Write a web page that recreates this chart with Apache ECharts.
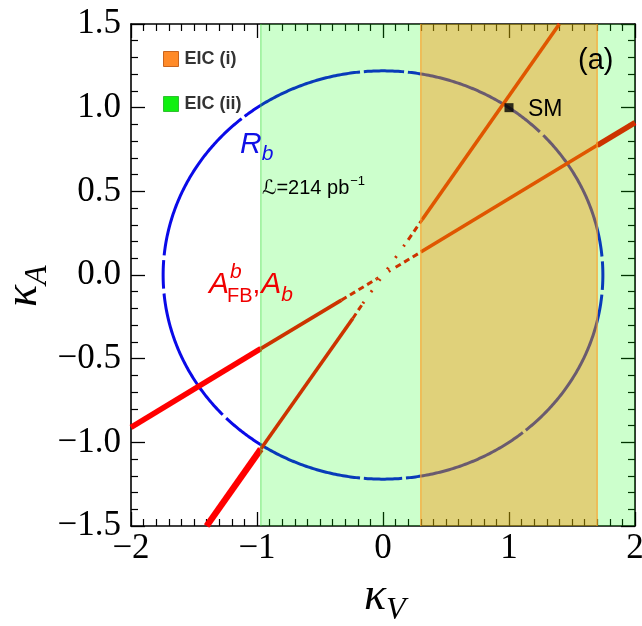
<!DOCTYPE html>
<html><head><meta charset="utf-8">
<script src="https://cdn.jsdelivr.net/npm/echarts@6/dist/echarts.min.js"></script>
<style>html,body{margin:0;padding:0;background:#fff}#c{width:642px;height:626px}</style>
</head><body><div id="c"></div>
<script>
// ---- data ----
const xRange = [-2, 2];
const yRange = [-1.5, 1.5];
const xInterval = 1;
const yInterval = 0.5;
const xTickLabels = ['−2', '−1', '0', '1', '2'];
const yTickLabels = ['−1.5', '−1.0', '−0.5', '0.0', '0.5', '1.0', '1.5'];
const bandNames = ['EIC (i)', 'EIC (ii)'];
const bandEIC1 = [0.30, 1.70];
const bandEIC2 = [-0.97, 2.0];
const rbCenter = [0, 0];
const rbSemiAxes = [1.745, 1.22];
const rbGapAngles = [4.7, 44, 84, 95.5, 129.5, 175.3, 184.7, 224, 264.5, 275.5, 310, 355.3];
const steepLine = [[-1.40, -1.5], [-0.97, -1.04], [-0.24, -0.26], [-0.16, -0.17], [0.20, 0.21], [0.31, 0.33], [1.40, 1.5]];
const steepKinds = ['thick', 'mid', 'dash', 'dot', 'dash', 'mid'];
const shallowLine = [[-2, -0.91], [-0.97, -0.44], [-0.33, -0.15], [-0.05, -0.023], [0.10, 0.046], [0.30, 0.137], [1.70, 0.775], [2, 0.91]];
const shallowKinds = ['thick', 'mid', 'dash', 'dot', 'dash', 'mid', 'thick'];
const smPoint = [1, 1];

// ---- styles ----
const F_SANS = '"Liberation Sans", Arial, "DejaVu Sans", sans-serif';
const F_SERIF = '"Liberation Serif", "Times New Roman", serif';
const lineKindStyle = {
  thick: { width: 6 },
  mid: { width: 3.6 },
  dash: { width: 3, type: [6, 4] },
  dot: { width: 3, type: [2, 12] }
};

const chart = echarts.init(document.getElementById('c'), null, { renderer: 'canvas' });

function segSeries(pts, kinds, w) {
  return kinds.map((k, i) => ({
    type: 'line', data: [pts[i], pts[i + 1]], symbol: 'none', z: 3, silent: true,
    animation: false, clip: true,
    lineStyle: Object.assign({ color: '#ff0000', cap: 'butt' }, lineKindStyle[k],
      (k === 'thick' && w) ? { width: w } : {})
  }));
}

function bandRender(fill, stroke, edges) {
  return function (params, api) {
    const a = api.coord([api.value(0), yRange[1]]);
    const b = api.coord([api.value(1), yRange[0]]);
    const ch = [{ type: 'rect', shape: { x: a[0], y: a[1], width: b[0] - a[0], height: b[1] - a[1] }, style: { fill: fill } }];
    edges.forEach(e => {
      const x = e === 0 ? a[0] : b[0];
      ch.push({ type: 'line', shape: { x1: x, y1: a[1], x2: x, y2: b[1] }, style: { stroke: stroke, lineWidth: 1.5 } });
    });
    return { type: 'group', children: ch };
  };
}

function ellipseRender(params, api) {
  const cx = api.value(0), cy = api.value(1);
  const ra = rbSemiAxes[0], rb = rbSemiAxes[1];
  const g = rbGapAngles.slice().sort((p, q) => p - q);
  const half = 0.5;
  const children = [];
  for (let i = 0; i < g.length; i++) {
    const t0 = g[i] + half;
    const t1 = (i + 1 < g.length ? g[i + 1] : g[0] + 360) - half;
    const pts = [];
    for (let t = t0; t <= t1 + 1e-9; t += 0.5) {
      const r = t * Math.PI / 180;
      pts.push(api.coord([cx + ra * Math.cos(r), cy + rb * Math.sin(r)]));
    }
    children.push({ type: 'polyline', shape: { points: pts }, style: { stroke: '#0a0ae8', lineWidth: 3, fill: null } });
  }
  return { type: 'group', children: children };
}

// ---- text helpers ----
const meas = document.createElement('canvas').getContext('2d');
function fontStr(p) {
  return (p.italic ? 'italic ' : '') + (p.bold ? 'bold ' : '') + p.size + 'px ' + (p.serif ? F_SERIF : F_SANS);
}
function textRun(pieces, startX, fill, z) {
  const els = [];
  let maxEnd = startX, stackX = startX, first = true;
  pieces.forEach(p => {
    const f = fontStr(p);
    meas.font = f;
    const w = meas.measureText(p.t).width;
    let px;
    if (first) { px = startX; first = false; stackX = px; }
    else if (p.stack) { px = stackX + (p.dx || 0); }
    else { px = maxEnd + (p.dx || 0); stackX = px; }
    els.push({ type: 'text', z: z || 100, style: { text: p.t, x: px, y: p.base - 0.345 * p.size, font: f, fill: p.fill || fill, align: 'left', verticalAlign: 'middle' } });
    maxEnd = Math.max(maxEnd, px + w);
  });
  return els;
}

const labels = [].concat(
  textRun([{ t: 'R', size: 30, italic: true, base: 155 }, { t: 'b', size: 21, italic: true, base: 161, dx: 0 }], 240, '#1010e6'),
  textRun([
    { t: 'A', size: 30, italic: true, base: 295 },
    { t: 'b', size: 21, italic: true, base: 279, dx: 1 },
    { t: 'FB', size: 20, base: 303, stack: true, dx: -3 },
    { t: ',', size: 28, base: 295, dx: 0 },
    { t: 'A', size: 30, italic: true, base: 295, dx: 1 },
    { t: 'b', size: 21, italic: true, base: 302, dx: 0 }
  ], 209, '#f00000'),
  textRun([{ t: 'ℒ=214 pb', size: 20, base: 195 }, { t: '−1', size: 13, base: 186, dx: 1 }], 262, '#000'),
  textRun([{ t: 'SM', size: 23, base: 118 }], 528, '#000'),
  textRun([{ t: '(a)', size: 29, base: 71 }], 578, '#000'),
  textRun([{ t: 'κ', size: 46, italic: true, serif: true, base: 613 }, { t: 'V', size: 32, italic: true, serif: true, base: 622, dx: 0 }], 364, '#000')
);
const kaGroup = {
  type: 'group', x: 40, y: 307, rotation: Math.PI / 2, z: 100,
  children: textRun([{ t: 'κ', size: 46, italic: true, serif: true, base: 0 }, { t: 'A', size: 32, italic: true, serif: true, base: 9, dx: 0 }], 0, '#000')
};

function axisCommon(isX, pos, showLabel) {
  const lab = isX ? xTickLabels : yTickLabels;
  const mn = isX ? xRange[0] : yRange[0];
  const iv = isX ? xInterval : yInterval;
  return {
    type: 'value', position: pos,
    min: mn, max: isX ? xRange[1] : yRange[1], interval: iv,
    axisLine: { show: true, onZero: false, lineStyle: { color: '#000', width: 1.6 } },
    axisTick: { show: true, inside: true, length: 14, lineStyle: { color: '#000', width: 1.3 } },
    minorTick: { show: true, splitNumber: isX ? 10 : 5, length: 7, lineStyle: { color: '#000', width: 1.2 } },
    splitLine: { show: false }, minorSplitLine: { show: false },
    axisLabel: {
      show: showLabel, showMinLabel: true, showMaxLabel: true, hideOverlap: false,
      formatter: v => lab[Math.round((v - mn) / iv)] || '',
      fontFamily: F_SERIF, fontSize: 35, color: '#000', margin: isX ? 5 : 10
    }
  };
}

const option = {
  animation: false,
  backgroundColor: '#fff',
  grid: { left: 131, top: 24, width: 504, height: 502, containLabel: false, outerBoundsMode: 'none' },
  xAxis: [axisCommon(true, 'bottom', true), axisCommon(true, 'top', false)],
  yAxis: [axisCommon(false, 'left', true), axisCommon(false, 'right', false)],
  legend: {
    orient: 'vertical', left: 158, top: 45, itemWidth: 15, itemHeight: 15, itemGap: 27,
    selectedMode: false, icon: 'rect',
    textStyle: { fontFamily: F_SANS, fontWeight: 'bold', fontSize: 18, lineHeight: 15, color: '#333', padding: [0, 0, 0, 1] },
    data: [
      { name: bandNames[0], icon: 'rect', itemStyle: { color: '#ff8a28', borderColor: '#c8641e', borderWidth: 1, opacity: 1 } },
      { name: bandNames[1], icon: 'rect', itemStyle: { color: '#10f010', borderColor: '#30c030', borderWidth: 1, opacity: 1 } }
    ]
  },
  graphic: { elements: labels.concat([kaGroup]) },
  series: [].concat(
    [{ type: 'custom', name: 'Rb', z: 2, silent: true, data: [rbCenter], renderItem: ellipseRender, clip: true }],
    segSeries(steepLine, steepKinds, 6.5),
    segSeries(shallowLine, shallowKinds, 5.5),
    [
      { type: 'custom', name: bandNames[1], z: 4, silent: true, data: [bandEIC2], clip: true,
        itemStyle: { color: '#10f010' },
        renderItem: bandRender('rgba(0,255,0,0.2)', 'rgba(60,220,60,0.45)', [0]) },
      { type: 'custom', name: bandNames[0], z: 5, silent: true, data: [bandEIC1], clip: true,
        itemStyle: { color: '#ff8a28' },
        renderItem: bandRender('rgba(255,140,0,0.4)', 'rgba(255,160,40,0.7)', [0, 1]) },
      { type: 'scatter', name: 'SM', z: 6, silent: true, data: [smPoint], symbol: 'rect', symbolSize: 9,
        itemStyle: { color: '#000' } }
    ]
  )
};
chart.setOption(option);
</script></body></html>
